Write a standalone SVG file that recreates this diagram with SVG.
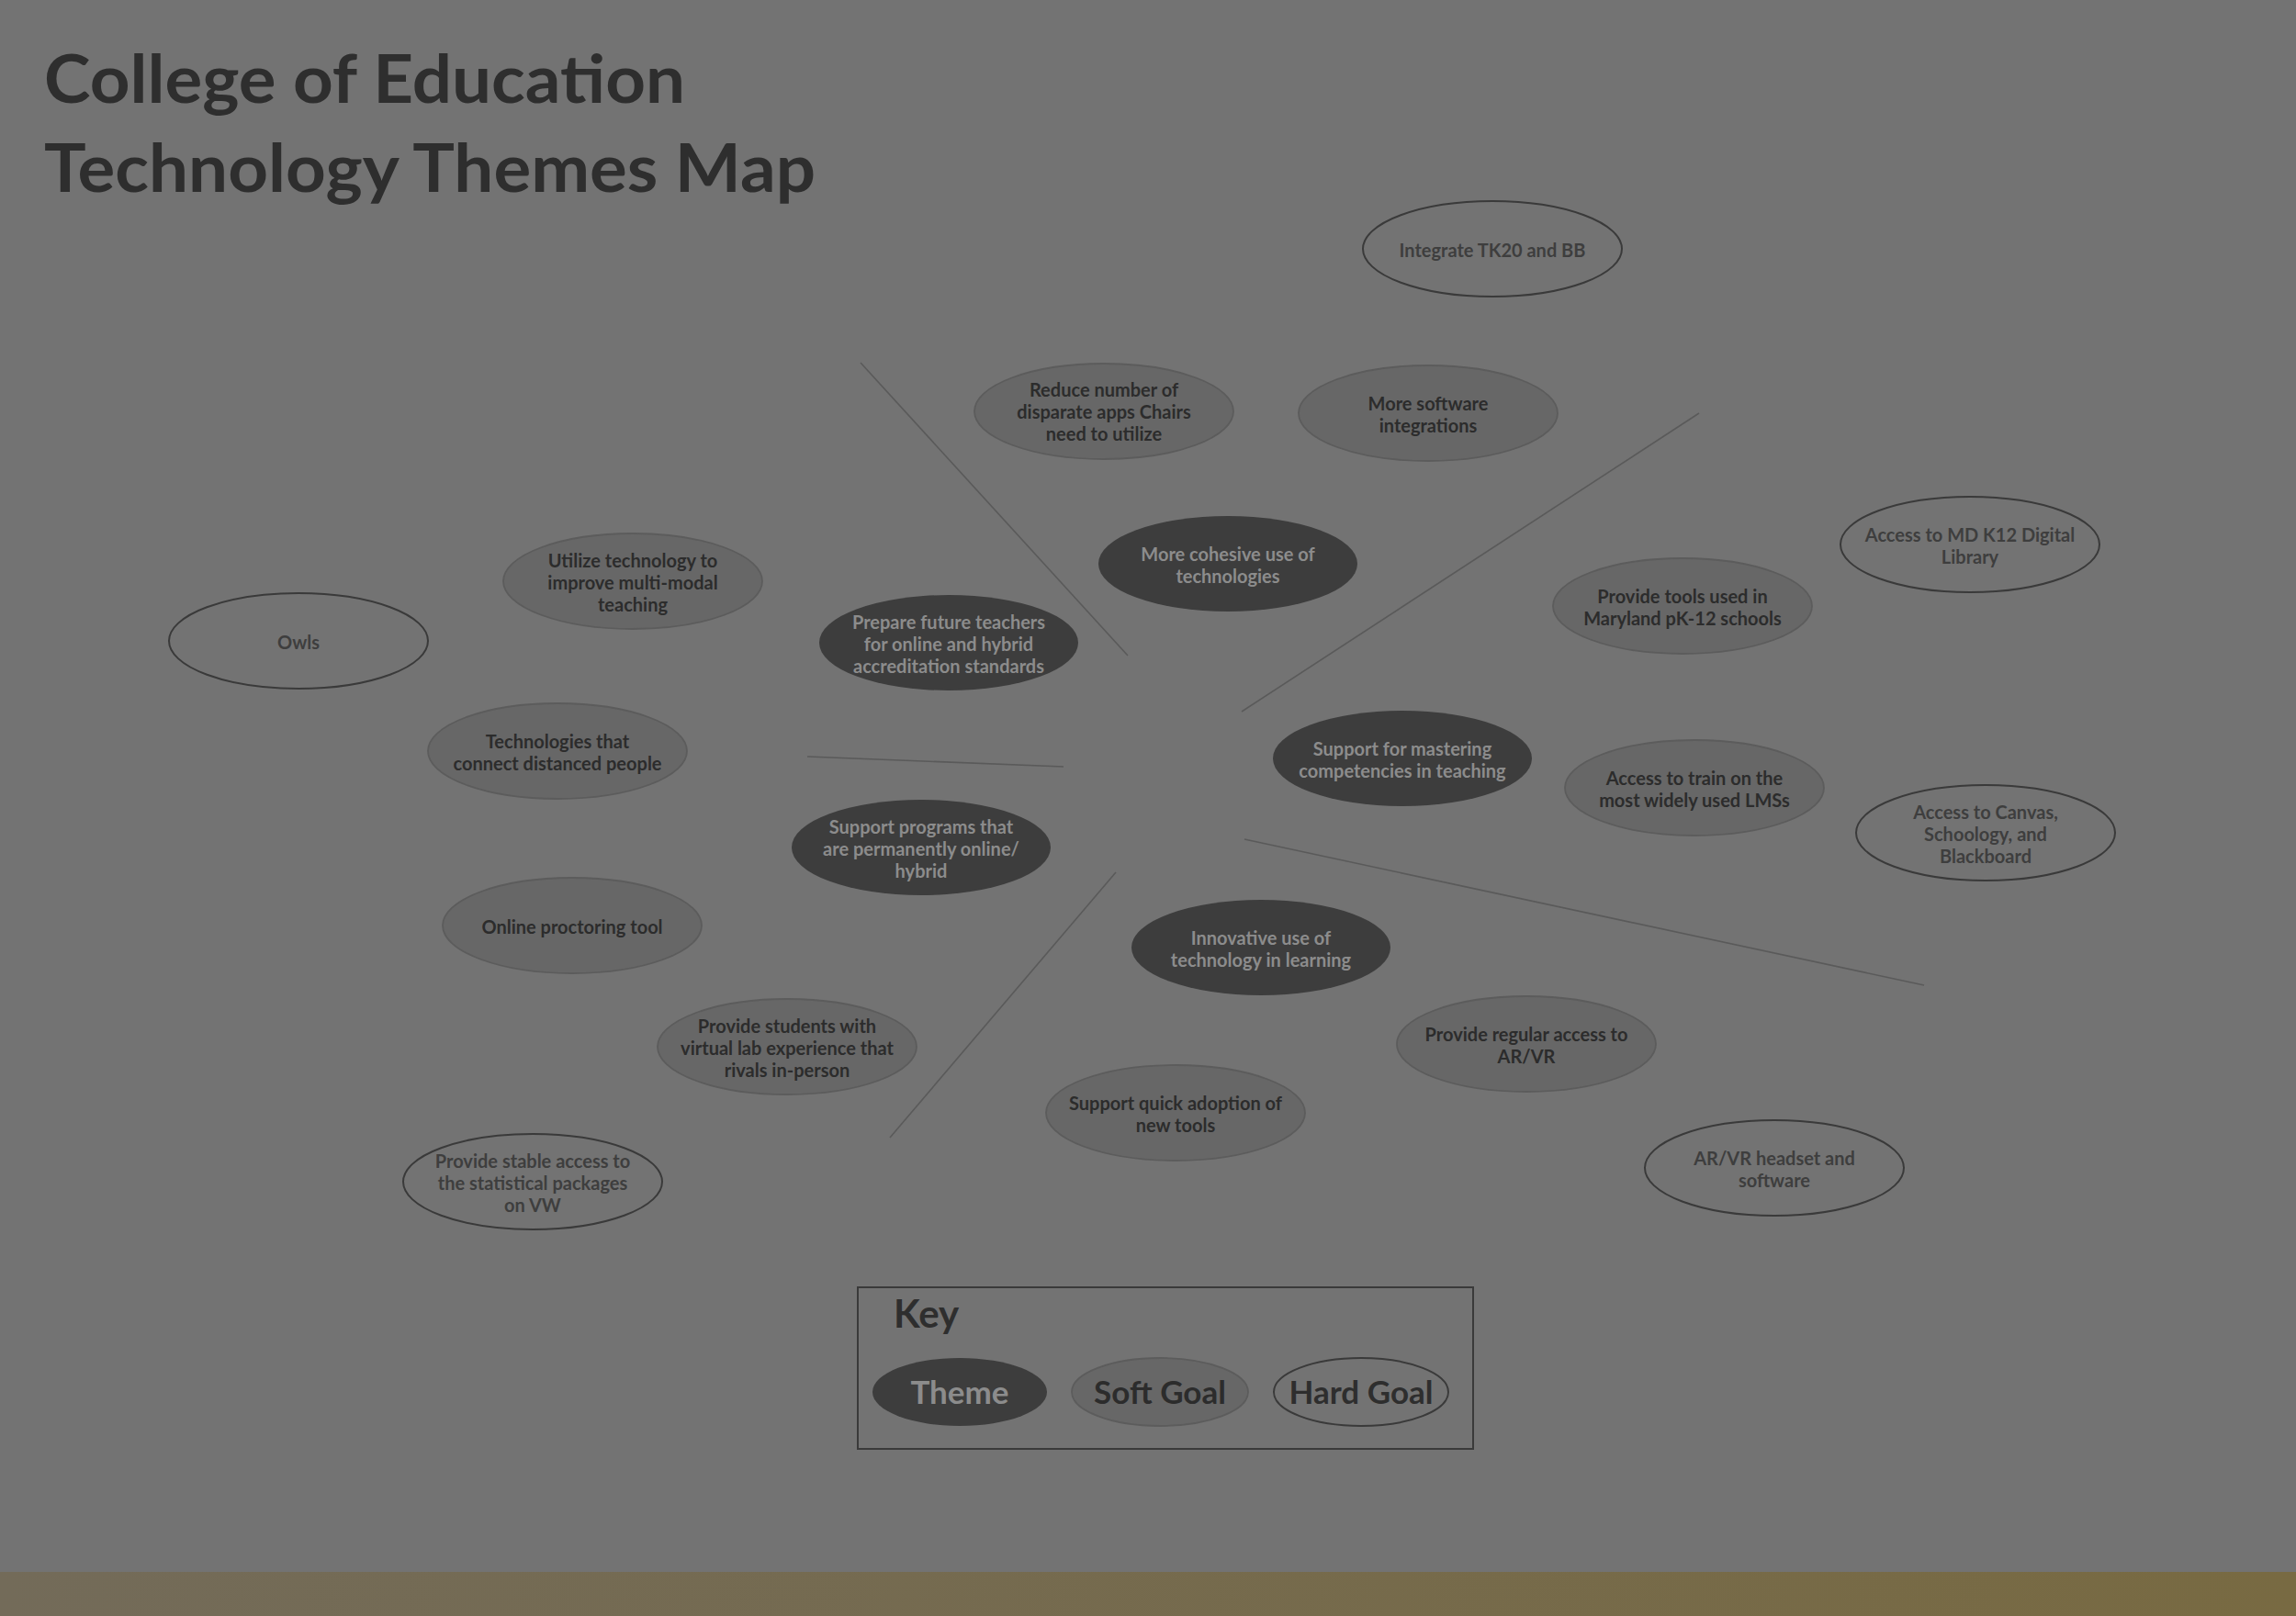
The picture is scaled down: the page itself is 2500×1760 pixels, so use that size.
<svg xmlns="http://www.w3.org/2000/svg" width="2500" height="1760" viewBox="0 0 2500 1760">
<style>
text{font-family:Lato,"Open Sans","Liberation Sans",sans-serif;font-weight:700;text-anchor:middle}
.title{font-size:72px;fill:#2e2e2e;text-anchor:start}
.n{font-size:20px}
.theme ellipse{fill:#3d3d3d;stroke:none}
.theme text{fill:#8c8c8c}
.soft ellipse{fill:#676767;stroke:#5c5c5c;stroke-width:1.8}
.soft text{fill:#2c2c2c}
.hard ellipse{fill:none;stroke:#3a3a3a;stroke-width:2}
.hard text{fill:#3e3e3e}
.conn line{stroke:#5a5a5a;stroke-width:1.6}
.key{font-size:35px}
</style>
<defs>
<linearGradient id="strip" x1="0" y1="0" x2="1" y2="0">
<stop offset="0" stop-color="#736b59"/>
<stop offset="1" stop-color="#786a42"/>
</linearGradient>
</defs>
<rect x="0" y="0" width="2500" height="1760" fill="#737373"/>
<rect x="0" y="1712" width="2500" height="48" fill="url(#strip)"/>

<g id="title">
<text class="title" x="48" y="112" textLength="698" lengthAdjust="spacingAndGlyphs">College of Education</text>
<text class="title" x="48" y="209" textLength="840" lengthAdjust="spacingAndGlyphs">Technology Themes Map</text>
</g>

<g id="connectors" class="conn">
<line x1="937" y1="395" x2="1228" y2="714"/>
<line x1="1352" y1="775" x2="1850" y2="450"/>
<line x1="879" y1="824" x2="1158" y2="835"/>
<line x1="1355" y1="914" x2="2095" y2="1073"/>
<line x1="1215" y1="950" x2="969" y2="1239"/>
</g>

<g id="n-integrate" class="hard">
<ellipse cx="1625" cy="271" rx="141" ry="52"/>
<text class="n" x="1625" y="280">Integrate TK20 and BB</text>
</g>
<g id="n-reduce" class="soft">
<ellipse cx="1202" cy="448" rx="141" ry="52"/>
<text class="n" x="1202" y="432">Reduce number of</text>
<text class="n" x="1202" y="456">disparate apps Chairs</text>
<text class="n" x="1202" y="480">need to utilize</text>
</g>
<g id="n-software" class="soft">
<ellipse cx="1555" cy="450" rx="141" ry="52"/>
<text class="n" x="1555" y="447">More software</text>
<text class="n" x="1555" y="471">integrations</text>
</g>
<g id="n-cohesive" class="theme">
<ellipse cx="1337" cy="614" rx="141" ry="52"/>
<text class="n" x="1337" y="611">More cohesive use of</text>
<text class="n" x="1337" y="635">technologies</text>
</g>
<g id="n-utilize" class="soft">
<ellipse cx="689" cy="633" rx="141" ry="52"/>
<text class="n" x="689" y="618">Utilize technology to</text>
<text class="n" x="689" y="642">improve multi-modal</text>
<text class="n" x="689" y="666">teaching</text>
</g>
<g id="n-owls" class="hard">
<ellipse cx="325" cy="698" rx="141" ry="52"/>
<text class="n" x="325" y="707">Owls</text>
</g>
<g id="n-prepare" class="theme">
<ellipse cx="1033" cy="700" rx="141" ry="52"/>
<text class="n" x="1033" y="685">Prepare future teachers</text>
<text class="n" x="1033" y="709">for online and hybrid</text>
<text class="n" x="1033" y="733">accreditation standards</text>
</g>
<g id="n-mdk12" class="hard">
<ellipse cx="2145" cy="593" rx="141" ry="52"/>
<text class="n" x="2145" y="590">Access to MD K12 Digital</text>
<text class="n" x="2145" y="614">Library</text>
</g>
<g id="n-tools" class="soft">
<ellipse cx="1832" cy="660" rx="141" ry="52"/>
<text class="n" x="1832" y="657">Provide tools used in</text>
<text class="n" x="1832" y="681">Maryland pK-12 schools</text>
</g>
<g id="n-connect" class="soft">
<ellipse cx="607" cy="818" rx="141" ry="52"/>
<text class="n" x="607" y="815">Technologies that</text>
<text class="n" x="607" y="839">connect distanced people</text>
</g>
<g id="n-mastering" class="theme">
<ellipse cx="1527" cy="826" rx="141" ry="52"/>
<text class="n" x="1527" y="823">Support for mastering</text>
<text class="n" x="1527" y="847">competencies in teaching</text>
</g>
<g id="n-lms" class="soft">
<ellipse cx="1845" cy="858" rx="141" ry="52"/>
<text class="n" x="1845" y="855">Access to train on the</text>
<text class="n" x="1845" y="879">most widely used LMSs</text>
</g>
<g id="n-canvas" class="hard">
<ellipse cx="2162" cy="907" rx="141" ry="52"/>
<text class="n" x="2162" y="892">Access to Canvas,</text>
<text class="n" x="2162" y="916">Schoology, and</text>
<text class="n" x="2162" y="940">Blackboard</text>
</g>
<g id="n-programs" class="theme">
<ellipse cx="1003" cy="923" rx="141" ry="52"/>
<text class="n" x="1003" y="908">Support programs that</text>
<text class="n" x="1003" y="932">are permanently online/</text>
<text class="n" x="1003" y="956">hybrid</text>
</g>
<g id="n-proctoring" class="soft">
<ellipse cx="623" cy="1008" rx="141" ry="52"/>
<text class="n" x="623" y="1017">Online proctoring tool</text>
</g>
<g id="n-innovative" class="theme">
<ellipse cx="1373" cy="1032" rx="141" ry="52"/>
<text class="n" x="1373" y="1029">Innovative use of</text>
<text class="n" x="1373" y="1053">technology in learning</text>
</g>
<g id="n-arvr" class="soft">
<ellipse cx="1662" cy="1137" rx="141" ry="52"/>
<text class="n" x="1662" y="1134">Provide regular access to</text>
<text class="n" x="1662" y="1158">AR/VR</text>
</g>
<g id="n-virtuallab" class="soft">
<ellipse cx="857" cy="1140" rx="141" ry="52"/>
<text class="n" x="857" y="1125">Provide students with</text>
<text class="n" x="857" y="1149">virtual lab experience that</text>
<text class="n" x="857" y="1173">rivals in-person</text>
</g>
<g id="n-adoption" class="soft">
<ellipse cx="1280" cy="1212" rx="141" ry="52"/>
<text class="n" x="1280" y="1209">Support quick adoption of</text>
<text class="n" x="1280" y="1233">new tools</text>
</g>
<g id="n-headset" class="hard">
<ellipse cx="1932" cy="1272" rx="141" ry="52"/>
<text class="n" x="1932" y="1269">AR/VR headset and</text>
<text class="n" x="1932" y="1293">software</text>
</g>
<g id="n-stats" class="hard">
<ellipse cx="580" cy="1287" rx="141" ry="52"/>
<text class="n" x="580" y="1272">Provide stable access to</text>
<text class="n" x="580" y="1296">the statistical packages</text>
<text class="n" x="580" y="1320">on VW</text>
</g>

<g id="key">
<rect x="934" y="1402" width="670" height="176" fill="none" stroke="#3a3a3a" stroke-width="2"/>
<text x="973" y="1446" style="font-size:42px;fill:#2e2e2e;text-anchor:start">Key</text>
<g class="theme">
<ellipse cx="1045" cy="1516" rx="95" ry="37"/>
<text class="key" x="1045" y="1529">Theme</text>
</g>
<g class="soft">
<ellipse cx="1263" cy="1516" rx="96" ry="37"/>
<text class="key" x="1263" y="1529">Soft Goal</text>
</g>
<g class="hard">
<ellipse cx="1482" cy="1516" rx="95" ry="37"/>
<text class="key" x="1482" y="1529" style="fill:#2e2e2e">Hard Goal</text>
</g>
</g>
</svg>
